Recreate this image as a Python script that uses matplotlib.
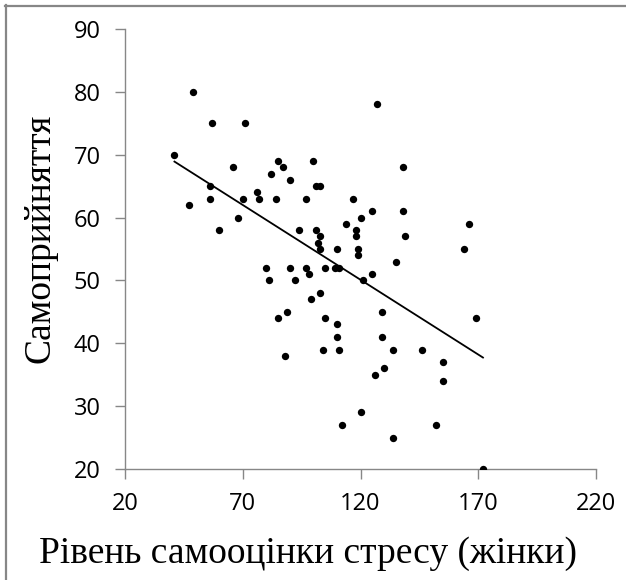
import numpy as np
import matplotlib
matplotlib.use("Agg")
import matplotlib.pyplot as plt
from matplotlib.lines import Line2D

# Data: stress self-assessment (women) vs self-acceptance
stress = [41, 49, 47, 57, 56, 56, 60, 66, 68, 70, 71, 76, 77, 80, 81, 82, 84, 85, 85, 87,
          88, 89, 90, 90, 92, 94, 97, 97, 98, 99, 100, 101, 101, 102, 103, 103, 103, 103, 104, 105,
          105, 110, 109, 110, 110, 111, 111, 112, 114, 117, 118, 118, 119, 119, 120, 120, 121, 125, 125, 126,
          127, 129, 129, 130, 134, 134, 135, 138, 138, 139, 146, 152, 155, 155, 164, 166, 169, 172]
acceptance = [70, 80, 62, 75, 65, 63, 58, 68, 60, 63, 75, 64, 63, 52, 50, 67, 63, 69, 44, 68,
              38, 45, 66, 52, 50, 58, 63, 52, 51, 47, 69, 65, 58, 56, 65, 57, 55, 48, 39, 52,
              44, 55, 52, 43, 41, 52, 39, 27, 59, 63, 58, 57, 55, 54, 60, 29, 50, 61, 51, 35,
              78, 45, 41, 36, 39, 25, 53, 68, 61, 57, 39, 27, 37, 34, 55, 59, 44, 20]

x_ticks = [20, 70, 120, 170, 220]
y_ticks = [20, 30, 40, 50, 60, 70, 80, 90]
x_label = "Рівень самооцінки стресу (жінки)"
y_label = "Самоприйняття"

W, H = 626, 580
fig = plt.figure(figsize=(W / 100, H / 100), dpi=100)
ax = fig.add_axes([125 / W, (H - 469) / H, 471 / W, 440 / H])

x = np.array(stress, dtype=float)
y = np.array(acceptance, dtype=float)
ax.scatter(x, y, s=28, color="black", zorder=3, linewidths=0)

k, b = np.polyfit(x, y, 1)
xs = np.array([x.min(), x.max()])
ax.plot(xs, k * xs + b, color="black", lw=1.3, zorder=2)

ax.set_xlim(20, 220)
ax.set_ylim(20, 90)
ax.set_xticks(x_ticks)
ax.set_yticks(y_ticks)
tick_font = dict(family="Open Sans", size=17, color="black")
ax.set_xticklabels([str(t) for t in x_ticks], fontdict=tick_font)
ax.set_yticklabels([str(t) for t in y_ticks], fontdict=tick_font)

gray = "#878787"
for s in ["top", "right"]:
    ax.spines[s].set_visible(False)
for s in ["left", "bottom"]:
    ax.spines[s].set_color(gray)
    ax.spines[s].set_linewidth(1.0)
ax.tick_params(axis="both", colors=gray, length=7.5, width=1.0, labelcolor="black")
ax.tick_params(axis="y", pad=10)
ax.tick_params(axis="x", pad=9)

fig.text(308 / W, 17 / H, x_label, ha="center", va="baseline",
         fontsize=27, family="Liberation Serif")
fig.text(40 / W, 1 - 238 / H, y_label, ha="center", va="center", rotation=90,
         fontsize=27, family="Liberation Serif")

# outer border (top and left visible)
fig.add_artist(Line2D([5 / W, 1.0], [1 - 5.5 / H, 1 - 5.5 / H], color=gray, lw=1.6,
                      transform=fig.transFigure))
fig.add_artist(Line2D([5.5 / W, 5.5 / W], [0, 1 - 5 / H], color=gray, lw=1.6,
                      transform=fig.transFigure))

fig.savefig("out.png", dpi=100)
